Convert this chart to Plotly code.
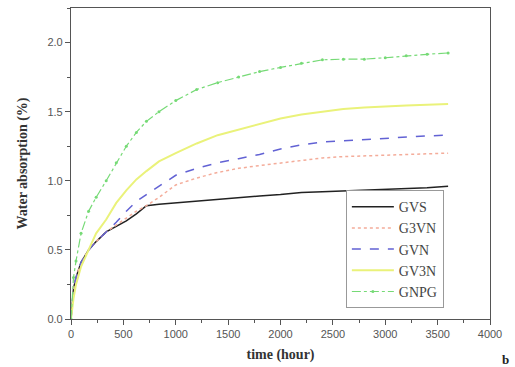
import plotly.graph_objects as go

time_h = [0, 24, 48, 96, 168, 240, 336, 432, 528, 624, 720, 840, 1000, 1200,
          1400, 1600, 1800, 2000, 2200, 2400, 2600, 2800, 3000, 3200, 3400, 3600]

gvs = [0.0, 0.22, 0.30, 0.41, 0.50, 0.56, 0.63, 0.67, 0.71, 0.76, 0.82, 0.83, 0.84, 0.855,
       0.87, 0.88, 0.89, 0.90, 0.915, 0.92, 0.925, 0.93, 0.935, 0.94, 0.95, 0.96]
g3vn = [0.0, 0.22, 0.30, 0.41, 0.50, 0.56, 0.63, 0.68, 0.73, 0.78, 0.82, 0.88, 0.97, 1.02,
        1.06, 1.09, 1.11, 1.13, 1.15, 1.165, 1.175, 1.18, 1.185, 1.19, 1.195, 1.20]
gvn = [0.0, 0.22, 0.30, 0.41, 0.50, 0.56, 0.63, 0.70, 0.78, 0.85, 0.90, 0.96, 1.04, 1.09,
       1.13, 1.16, 1.19, 1.23, 1.26, 1.28, 1.29, 1.30, 1.31, 1.315, 1.325, 1.33]
gv3n = [0.0, 0.15, 0.25, 0.38, 0.50, 0.62, 0.72, 0.84, 0.93, 1.01, 1.07, 1.14, 1.20, 1.27,
        1.33, 1.37, 1.41, 1.45, 1.48, 1.50, 1.52, 1.53, 1.54, 1.545, 1.55, 1.555]
gnpg = [0.0, 0.30, 0.42, 0.62, 0.78, 0.88, 1.00, 1.13, 1.25, 1.35, 1.43, 1.50, 1.58, 1.66,
        1.71, 1.75, 1.79, 1.82, 1.85, 1.875, 1.88, 1.88, 1.89, 1.905, 1.915, 1.925]

x_ticks = [0, 500, 1000, 1500, 2000, 2500, 3000, 3500, 4000]
y_ticks = [0.0, 0.5, 1.0, 1.5, 2.0]
y_tick_labels = ["0.0", "0.5", "1.0", "1.5", "2.0"]

fig = go.Figure()
fig.add_trace(go.Scatter(x=time_h, y=gvs, name="GVS", mode="lines",
                         line=dict(color="#222222", width=1.5)))
fig.add_trace(go.Scatter(x=time_h, y=g3vn, name="G3VN", mode="lines",
                         line=dict(color="#f4ac9a", width=1.5, dash="dot")))
fig.add_trace(go.Scatter(x=time_h, y=gvn, name="GVN", mode="lines",
                         line=dict(color="#6262d4", width=1.5, dash="dash")))
fig.add_trace(go.Scatter(x=time_h, y=gv3n, name="GV3N", mode="lines",
                         line=dict(color="#eaf27a", width=2)))
fig.add_trace(go.Scatter(x=time_h, y=gnpg, name="GNPG", mode="lines+markers",
                         line=dict(color="#76da76", width=1.2, dash="dashdot"),
                         marker=dict(color="#76da76", size=3)))

axis_common = dict(showline=True, linecolor="#555555", linewidth=1.2, mirror=True,
                   showgrid=False, zeroline=False, ticks="outside", ticklen=5,
                   tickcolor="#555555",
                   tickfont=dict(family="Liberation Sans, Arial", size=11, color="#555555"))

fig.update_layout(
    width=515, height=367,
    margin=dict(l=71, r=25, t=8, b=48),
    paper_bgcolor="white", plot_bgcolor="white",
    xaxis=dict(range=[0, 4000], tickvals=x_ticks,
               minor=dict(dtick=250, ticks="outside", ticklen=3, tickcolor="#555555"),
               title=dict(text="<b>time (hour)</b>", standoff=9,
                          font=dict(family="Liberation Serif, Times New Roman", size=14, color="#333333")),
               **axis_common),
    yaxis=dict(range=[0, 2.25], tickvals=y_ticks, ticktext=y_tick_labels,
               minor=dict(dtick=0.25, ticks="outside", ticklen=3, tickcolor="#555555"),
               title=dict(text="<b>Water absorption (%)</b>", standoff=16,
                          font=dict(family="Liberation Serif, Times New Roman", size=14, color="#333333")),
               **axis_common),
    legend=dict(x=0.656, y=0.035, xanchor="left", yanchor="bottom",
                bgcolor="white", bordercolor="#999999", borderwidth=1,
                font=dict(family="Liberation Serif, Times New Roman", size=14, color="#444444"),
                tracegroupgap=0, itemwidth=42),
    showlegend=True,
    annotations=[dict(text="<b>b</b>", xref="paper", yref="paper",
                      x=(500 - 71) / 419, y=-(350 - 319) / 311, xanchor="left", yanchor="top",
                      showarrow=False,
                      font=dict(family="Liberation Serif, Times New Roman", size=13, color="#222222"))],
)

fig.write_html("out.html")
